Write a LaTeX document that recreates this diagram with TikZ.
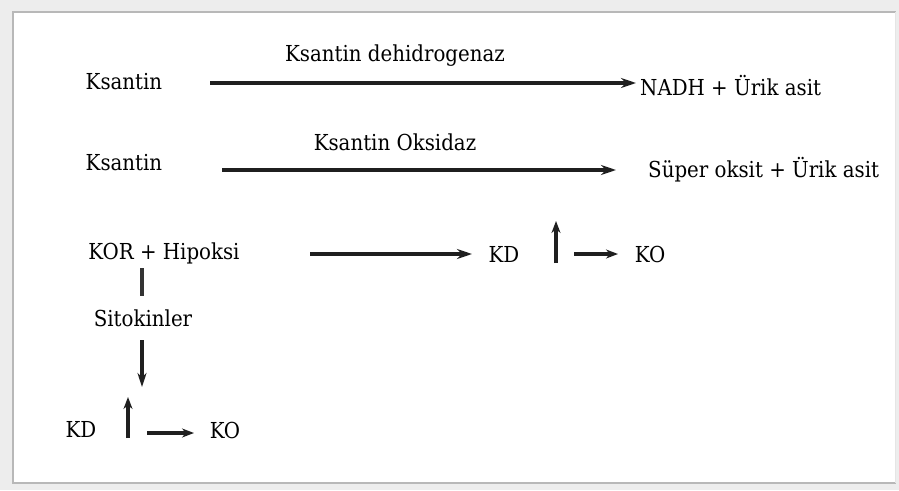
\documentclass[tikz,border=0pt]{standalone}
\usepackage{fontspec}
\setmainfont{DejaVu Serif Condensed}
\usetikzlibrary{arrows.meta}

\tikzset{
  lbl/.style={inner sep=0pt, font=\fontsize{22}{26}\selectfont},
  arr/.style={line width=3.4pt, color=black!88, -{Stealth[length=15pt,width=10pt]}},
  sarr/.style={arr, -{Stealth[length=12pt,width=9pt]}},
  stub/.style={line width=3.4pt, color=black!80}
}

\begin{document}
\begin{tikzpicture}[x=1pt,y=-1pt]
\def\rowA{83}
\def\rowB{170}
\def\rowC{254}

% frame
\fill[black!7] (0,0) rectangle (899,490);
\fill[white] (13,12) rectangle (896,483);
\draw[black!28, line width=2.5pt] (896,12) -- (13,12) -- (13,483) -- (896,483);
\draw[black!10, line width=1pt] (895,12) -- (895,483);
\useasboundingbox (0,0) rectangle (899,490);

% Ksantin dehidrogenaz
\node[lbl] (ksA) at (124,82) {Ksantin};
\node[lbl] (kdh) at (395,56) {Ksantin dehidrogenaz};
\node[lbl, anchor=west] (nadh) at (640,86) {NADH + Ürik asit};
\coordinate (a1) at (210,\rowA);
\coordinate (a2) at (636,\rowA);
\draw[arr] (a1) -- (a2);

% Ksantin oksidaz
\node[lbl] (ksB) at (124,163) {Ksantin};
\node[lbl] (kox) at (395,142) {Ksantin Oksidaz};
\node[lbl, anchor=west] (super) at (648,170) {Süper oksit + Ürik asit};
\coordinate (b1) at (222,\rowB);
\coordinate (b2) at (616,\rowB);
\draw[arr] (b1) -- (b2);

% KOR + Hipoksi
\node[lbl] (kor) at (164,253) {KOR + Hipoksi};
\node[lbl] (kdC) at (504,254) {KD};
\node[lbl] (koC) at (650,254) {KO};
\coordinate (c1) at (310,\rowC);
\coordinate (c2) at (472,\rowC);
\draw[arr] (c1) -- (c2);
\coordinate (upC1) at (556,263);
\coordinate (upC2) at (556,221);
\draw[sarr] (upC1) -- (upC2);
\coordinate (rC1) at (574,\rowC);
\coordinate (rC2) at (618,\rowC);
\draw[sarr] (rC1) -- (rC2);

% Sitokinler
\node[lbl] (sito) at (143,318) {Sitokinler};
\coordinate (s1) at (142,268);
\coordinate (s2) at (142,296);
\draw[stub] (s1) -- (s2);
\coordinate (d1) at (142,340);
\coordinate (d2) at (142,387);
\draw[arr, -{Stealth[length=14pt,width=9pt]}] (d1) -- (d2);

% KD / KO
\node[lbl] (kdD) at (81,429) {KD};
\node[lbl] (koD) at (225,430) {KO};
\coordinate (upD1) at (128,438);
\coordinate (upD2) at (128,397);
\draw[sarr] (upD1) -- (upD2);
\coordinate (rD1) at (147,433);
\coordinate (rD2) at (194,433);
\draw[sarr] (rD1) -- (rD2);
\end{tikzpicture}
\end{document}
